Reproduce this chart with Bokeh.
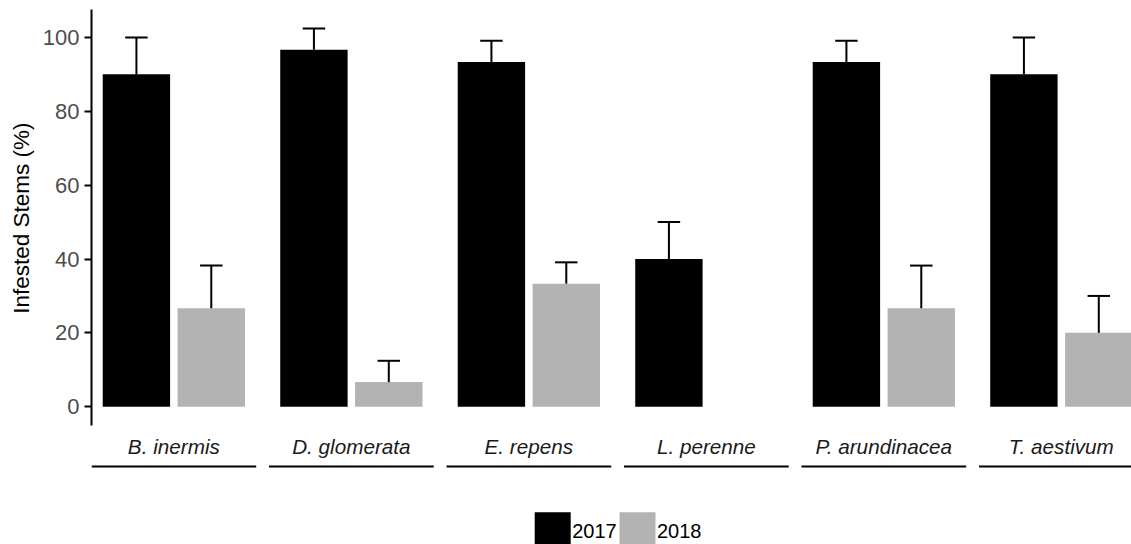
import numpy as np
from bokeh.plotting import figure
from bokeh.models import Range1d, FixedTicker, Title
from bokeh.core.properties import value
from bokeh.embed import file_html
from bokeh.resources import INLINE

# ---------------- data ----------------
species = ["B. inermis", "D. glomerata", "E. repens", "L. perenne", "P. arundinacea", "T. aestivum"]
years = ["2017", "2018"]
year_colors = ["#000000", "#B3B3B3"]
mean_2017 = [90.0, 96.67, 93.33, 40.0, 93.33, 90.0]
se_2017 = [10.0, 5.77, 5.77, 10.0, 5.77, 10.0]
mean_2018 = [26.67, 6.67, 33.33, float("nan"), 26.67, 20.0]
se_2018 = [11.55, 5.77, 5.77, float("nan"), 11.55, 10.0]
y_ticks = [0, 20, 40, 60, 80, 100]

# ---------------- layout constants ----------------
FONT = "Liberation Sans"
W, H = 1131, 544
ML = 91            # frame left (canvas px)
MT = 9             # frame top
FW = W - ML
FH = H - MT
PX_X = 164.7 / 2.2          # px per x unit
PITCH = 177.5 / PX_X        # panel pitch in x units
PANEL_W = 2.2
BAR_W = 0.9
CAP_W = 0.3

ymax_data = np.nanmax(np.concatenate([np.array(mean_2017) + np.array(se_2017),
                                      np.array(mean_2018) + np.array(se_2018)]))
y_end = ymax_data * 1.05
y_lo = -ymax_data * 0.05
PX_Y = 369.3 / 100.0
y_start = y_end - FH / PX_Y

def row_to_y(py):
    # canvas pixel row -> data y
    return y_end - (py - MT) / PX_Y

def col_to_x(px):
    return (px - ML) / PX_X

p = figure(width=W, height=H, output_backend="svg", toolbar_location=None,
           x_range=Range1d(0, FW / PX_X), y_range=Range1d(y_start, y_end),
           min_border_left=ML, min_border_top=MT, min_border_bottom=0, min_border_right=0)
p.xaxis.visible = False
p.xgrid.visible = False
p.ygrid.visible = False
p.outline_line_color = None
p.background_fill_color = "white"

idx = np.arange(len(species))
off = idx * PITCH
x17 = off + 0.6
x18 = off + 1.6

m17 = np.array(mean_2017); s17 = np.array(se_2017)
m18 = np.array(mean_2018); s18 = np.array(se_2018)

p.vbar(x=x17, top=m17, bottom=0, width=BAR_W, fill_color=year_colors[0], line_color=None)
p.vbar(x=x18, top=m18, bottom=0, width=BAR_W, fill_color=year_colors[1], line_color=None)

for xs, m, s in ((x17, m17, s17), (x18, m18, s18)):
    p.segment(x0=xs, y0=m, x1=xs, y1=m + s, line_color="black", line_width=2)
    p.segment(x0=xs - CAP_W / 2, y0=m + s, x1=xs + CAP_W / 2, y1=m + s, line_color="black", line_width=2)

# strip labels beneath panels
p.text(x=off + PANEL_W / 2, y=np.full(len(species), row_to_y(446)), text=species,
       text_font=value(FONT), text_font_style="italic", text_font_size="20.7px",
       text_align="center", text_baseline="middle", text_color="#1A1A1A")
p.segment(x0=off, y0=np.full(len(species), row_to_y(466)), x1=off + PANEL_W,
          y1=np.full(len(species), row_to_y(466)), line_color="black", line_width=2)

# legend (drawn manually)
key_cols = np.array([552.2, 637.0])
p.rect(x=col_to_x(key_cols), y=np.full(2, row_to_y(529.7)), width=36, height=36,
       width_units="screen", height_units="screen", fill_color=year_colors, line_color=None)
p.text(x=col_to_x(key_cols + 19.5), y=np.full(2, row_to_y(530)), text=years,
       text_font=value(FONT), text_font_size="20px", text_align="left",
       text_baseline="middle", text_color="black")

# y axis
ax = p.yaxis[0]
ax.ticker = FixedTicker(ticks=y_ticks)
ax.bounds = (y_lo, y_end)
ax.axis_line_width = 2
ax.axis_line_color = "black"
ax.major_tick_line_width = 2
ax.major_tick_line_color = "black"
ax.major_tick_out = 7
ax.major_tick_in = 0
ax.minor_tick_out = 0
ax.minor_tick_in = 0
ax.major_label_standoff = 5
ax.major_label_text_font = FONT
ax.major_label_text_font_size = "22px"
ax.major_label_text_color = "#4D4D4D"

# axis title, centred on the axis line extent rather than the whole frame
ytitle = Title(text="Infested Stems (%)", align="right", offset=113,
               vertical_align="middle", standoff=9,
               text_font=FONT, text_font_size="22.5px", text_font_style="normal",
               text_color="black")
p.add_layout(ytitle, "left")

open("out.html", "w").write(file_html(p, INLINE))
